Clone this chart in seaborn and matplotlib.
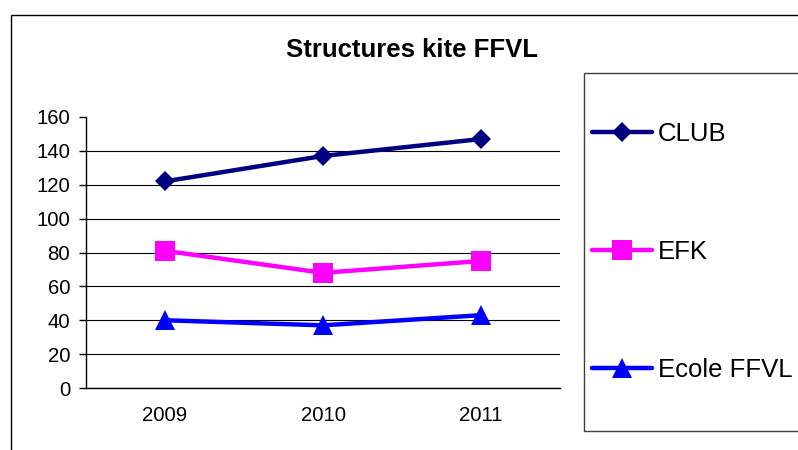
import numpy as np
import pandas as pd
import seaborn as sns
import matplotlib.pyplot as plt
from matplotlib.patches import Rectangle
from matplotlib.ticker import FixedLocator


years = [2009, 2010, 2011]
series_names = ['CLUB', 'EFK', 'Ecole FFVL']
club_values = [122, 137, 147]
efk_values = [81, 68, 75]
ecole_values = [40, 37, 43]
y_ticks = [0, 20, 40, 60, 80, 100, 120, 140, 160]

colors = {'CLUB': '#000080', 'EFK': '#FF00FF', 'Ecole FFVL': '#0000FF'}
markers = {'CLUB': 'D', 'EFK': 's', 'Ecole FFVL': '^'}
marker_sizes = {'D': 10, 's': 14, '^': 14}

W, H = 798, 450


def build_frame():
    rows = []
    for name, values in zip(series_names, [club_values, efk_values, ecole_values]):
        for year, value in zip(years, values):
            rows.append({'year': year, 'value': value, 'series': name})
    return pd.DataFrame(rows)


def create_graph(df):
    sns.set_style('white')
    plt.rcParams['font.family'] = ['Liberation Sans', 'DejaVu Sans']
    plt.rcParams['text.color'] = 'black'
    plt.rcParams['xtick.labelcolor'] = 'black'
    plt.rcParams['ytick.labelcolor'] = 'black'

    fig = plt.figure(figsize=(W / 100, H / 100), dpi=100)
    ax = fig.add_axes([86 / W, 1 - 388 / H, (560 - 86) / W, (388 - 117) / H])

    sns.lineplot(data=df, x='year', y='value', hue='series', style='series',
                 palette=colors, markers=markers, dashes=False, linewidth=3.2,
                 markeredgewidth=0, ax=ax)

    for line in ax.lines:
        m = line.get_marker()
        if m in marker_sizes:
            line.set_markersize(marker_sizes[m])

    handles, labels = ax.get_legend_handles_labels()
    ax.get_legend().remove()
    for h in handles:
        h.set_linewidth(3.2)
        h.set_markeredgewidth(0)
        m = h.get_marker()
        if m in marker_sizes:
            h.set_markersize(marker_sizes[m])

    ax.set_xlim(years[0] - 0.5, years[-1] + 0.5)
    ax.set_ylim(0, 160)
    ax.set_xticks(years)
    ax.set_xticklabels([str(y) for y in years])
    ax.xaxis.set_minor_locator(FixedLocator(np.arange(years[0] - 0.5, years[-1] + 1, 1.0)))
    ax.set_yticks(y_ticks)
    ax.set_xlabel('')
    ax.set_ylabel('')

    ax.tick_params(axis='x', which='major', length=0, pad=13, labelsize=14.7,
                   labelcolor='black')
    ax.tick_params(axis='x', which='minor', length=5, width=1, color='black', direction='out')
    ax.tick_params(axis='y', length=5, width=1, color='black', direction='out',
                   pad=6.5, labelsize=14.7, left=True, labelcolor='black')

    ax.yaxis.grid(True, color='black', linewidth=0.8)
    ax.xaxis.grid(False)
    ax.get_ygridlines()[-1].set_visible(False)

    for side in ['top', 'right']:
        ax.spines[side].set_visible(False)
    for side in ['left', 'bottom']:
        ax.spines[side].set_color('black')
        ax.spines[side].set_linewidth(1)

    fig.text(412 / W, 1 - 57 / H, 'Structures kite FFVL', ha='center', va='baseline',
             fontsize=18.5, fontweight='bold', color='black')

    # chart and legend frames
    fig.patches.append(Rectangle((11 / W, -0.1), 1.2, 1 - 15 / H + 0.1,
                                 transform=fig.transFigure, fill=False,
                                 edgecolor='black', linewidth=1))
    fig.patches.append(Rectangle((584 / W, 1 - 431 / H), 0.5, (431 - 73) / H,
                                 transform=fig.transFigure, fill=False,
                                 edgecolor='#404040', linewidth=1))

    leg = fig.legend(handles, labels, loc='center left', bbox_to_anchor=(592 / W, 1 - 252 / H),
                     frameon=False, fontsize=18.5, borderpad=0, labelspacing=3.67,
                     handlelength=2.33, handletextpad=0.23, borderaxespad=0)
    for t in leg.get_texts():
        t.set_color('black')

    fig.savefig('out.png', dpi=100)


def main():
    df = build_frame()
    create_graph(df)


if __name__ == '__main__':
    main()
